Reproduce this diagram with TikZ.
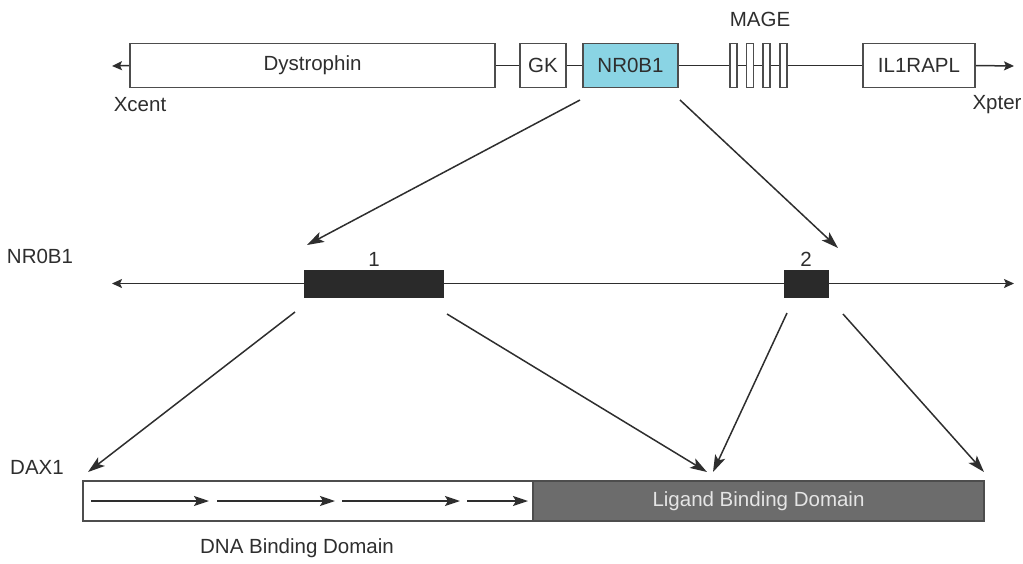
\documentclass[tikz,border=0pt]{standalone}
\usepackage{fontspec}
\setmainfont{Liberation Sans}
\usetikzlibrary{arrows.meta}
\definecolor{ink}{HTML}{2E2E2E}
\definecolor{cyanbox}{HTML}{8AD4E4}
\definecolor{lbd}{HTML}{6C6C6C}
\definecolor{exon}{HTML}{2A2A2A}
\begin{document}
\begin{tikzpicture}[x=1pt,y=-1pt,
  every node/.style={text=ink,font=\fontsize{20.5}{22}\selectfont},
  gene/.style={draw=ink!85,line width=1.6pt,fill=white,inner sep=0pt,minimum height=44pt},
  mage/.style={gene,minimum width=7pt},
  exonbox/.style={draw=exon,fill=exon,inner sep=0pt,minimum height=27pt},
  lbl/.style={inner sep=0pt},
  link/.style={draw=ink,line width=1.5pt},
  tipline/.style={draw=ink,line width=1.5pt,-{Stealth[length=17pt,width=11pt,inset=4pt]}},
  endtip/.style={draw=ink,line width=1.5pt,-{Stealth[length=10pt,width=9pt,inset=2pt]}},
  dbdarrow/.style={draw=ink,line width=1.8pt,-{Stealth[length=15pt,width=10pt,inset=3pt]}}
]
\useasboundingbox (0,0) rectangle (1023,563);
% ---------- top: chromosome map ----------
\node[gene,minimum width=365pt] (dys) at (312.5,65.5) {Dystrophin};
\node[gene,minimum width=46pt] (gk) at (543,65.5) {GK};
\node[gene,fill=cyanbox,minimum width=95pt] (nrb) at (630.5,65.5) {NR0B1};
\node[mage] (m1) at (733.5,65.5) {};
\node[mage] (m2) at (750,65.5) {};
\node[mage] (m3) at (766.5,65.5) {};
\node[mage] (m4) at (783.5,65.5) {};
\node[gene,minimum width=112pt] (il) at (919,65.5) {IL1RAPL};
\node[lbl] (mage) at (760,19) {MAGE};
\node[lbl] (xcent) at (140,105) {Xcent};
\node[lbl] (xpter) at (997,105) {Xpter};
\coordinate (xl) at (112,66);
\coordinate (xr) at (1014,66);
\draw[endtip] (dys.west) -- (xl);
\draw[link] (dys.east) -- (gk.west);
\draw[link] (gk.east) -- (nrb.west);
\draw[link] (nrb.east) -- (m1.west);
\draw[link] (m1.east) -- (m2.west);
\draw[link] (m2.east) -- (m3.west);
\draw[link] (m3.east) -- (m4.west);
\draw[link] (m4.east) -- (il.west);
\draw[endtip] (il.east) -- (xr);
% ---------- middle: NR0B1 gene ----------
\node[lbl] (nrlabel) at (40,256) {NR0B1};
\node[exonbox,minimum width=139pt] (e1) at (374,283.5) {};
\node[exonbox,minimum width=44pt] (e2) at (806,283.5) {};
\node[lbl] (l1) at (374,259) {1};
\node[lbl] (l2) at (806,259) {2};
\coordinate (gl) at (112,283.5);
\coordinate (gr) at (1014,283.5);
\draw[endtip] (e1.west) -- (gl);
\draw[link] (e1.east) -- (e2.west);
\draw[endtip] (e2.east) -- (gr);
% zoom arrows from NR0B1 box
\coordinate (ta) at (580,100);
\coordinate (tb) at (680,100);
\coordinate (ea) at (307,245);
\coordinate (eb) at (838,248);
\draw[tipline] (ta) -- (ea);
\draw[tipline] (tb) -- (eb);
% ---------- bottom: DAX1 protein ----------
\node[lbl] (daxlabel) at (37,467) {DAX1};
\node[draw=ink!85,line width=1.6pt,fill=white,inner sep=0pt,minimum width=450pt,minimum height=40pt] (dbd) at (308,501) {};
\node[draw=ink!85,line width=1.6pt,fill=lbd,inner sep=0pt,minimum width=451pt,minimum height=40pt,text=white!90!black] (lbdbox) at (758.5,501) {Ligand Binding Domain};
\node[lbl] (dbdlabel) at (297,548) {DNA Binding Domain};
\coordinate (a1s) at (91,501);  \coordinate (a1e) at (209,501);
\coordinate (a2s) at (217,501); \coordinate (a2e) at (335,501);
\coordinate (a3s) at (342,501); \coordinate (a3e) at (460,501);
\coordinate (a4s) at (467,501); \coordinate (a4e) at (528,501);
\draw[dbdarrow] (a1s) -- (a1e);
\draw[dbdarrow] (a2s) -- (a2e);
\draw[dbdarrow] (a3s) -- (a3e);
\draw[dbdarrow] (a4s) -- (a4e);
% zoom arrows from exons
\coordinate (b1) at (295,312);
\coordinate (b2) at (447,314);
\coordinate (b3) at (787,313);
\coordinate (b4) at (843,314);
\coordinate (c1) at (88,472);
\coordinate (c2) at (707,472);
\coordinate (c3) at (713,472);
\coordinate (c4) at (984,472);
\draw[tipline] (b1) -- (c1);
\draw[tipline] (b2) -- (c2);
\draw[tipline] (b3) -- (c3);
\draw[tipline] (b4) -- (c4);
\end{tikzpicture}
\end{document}
